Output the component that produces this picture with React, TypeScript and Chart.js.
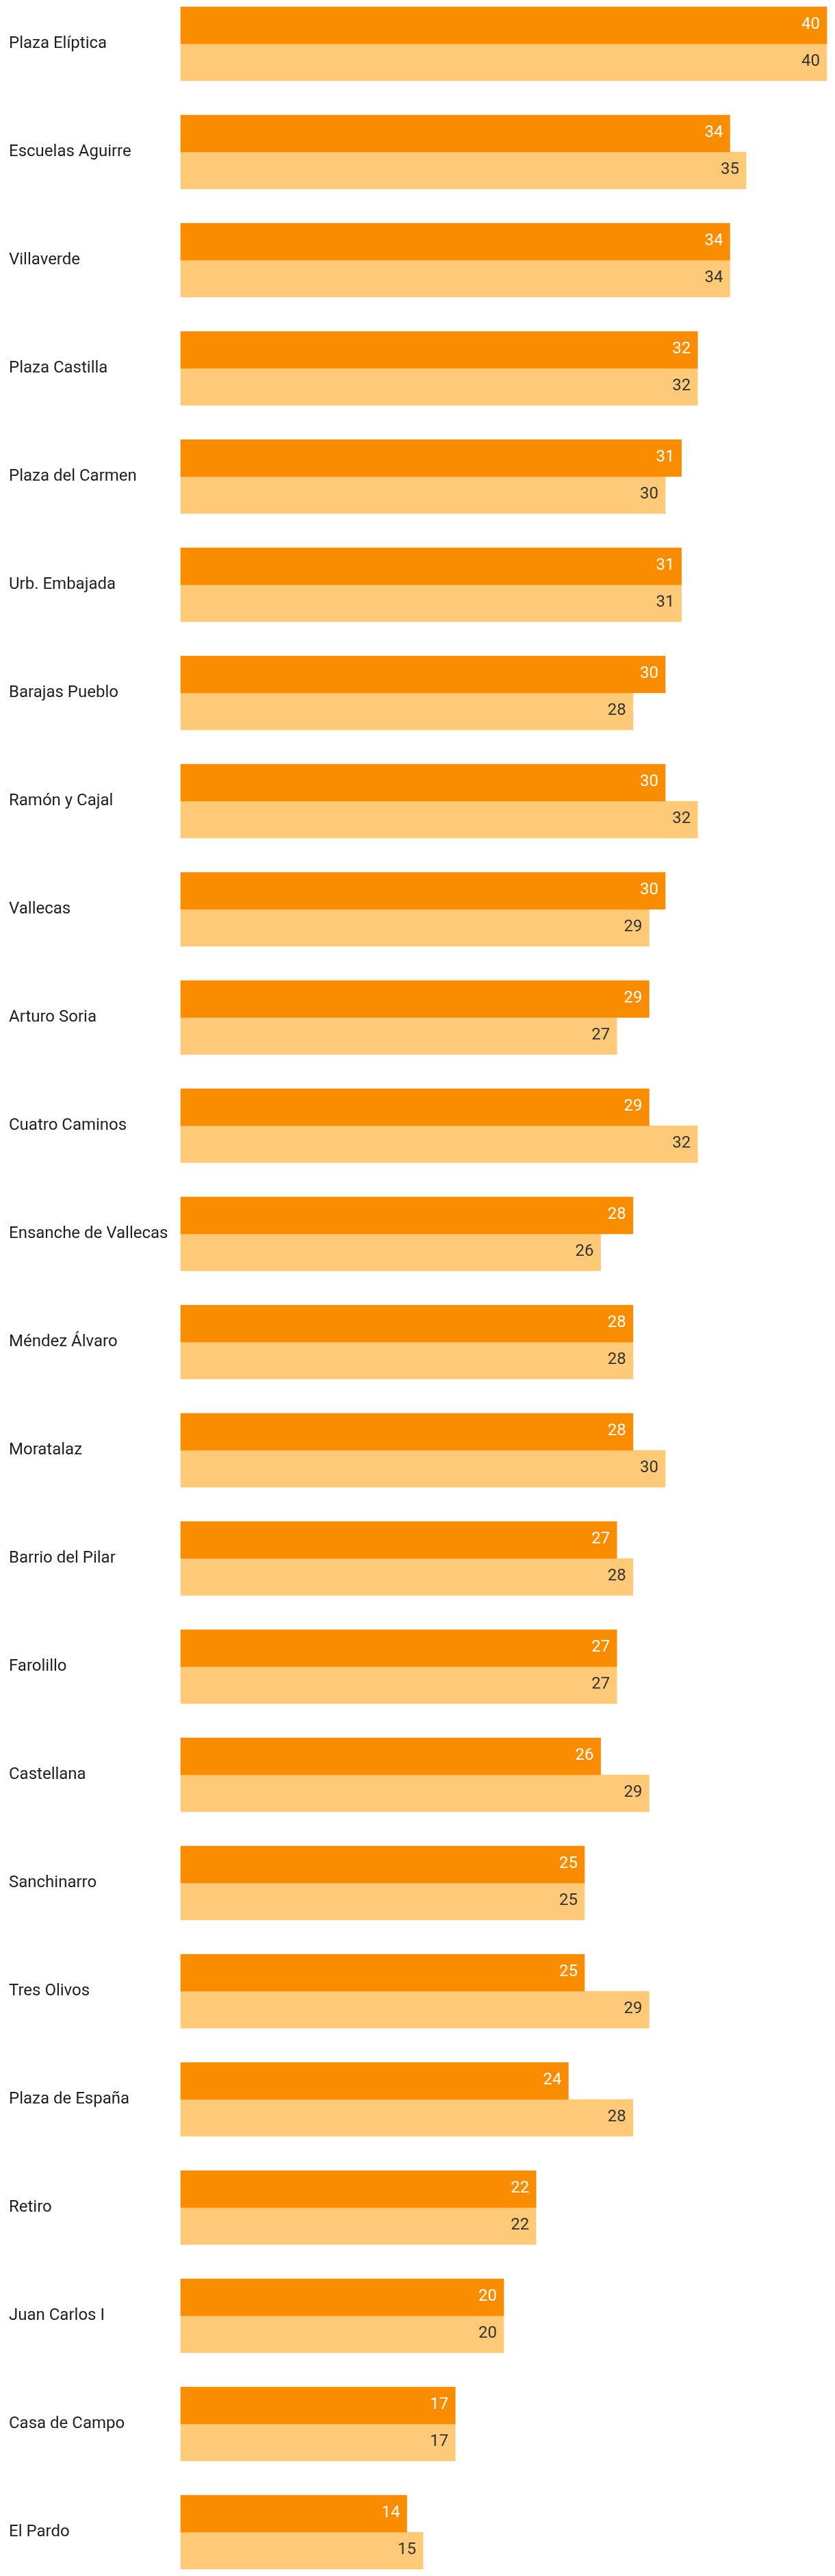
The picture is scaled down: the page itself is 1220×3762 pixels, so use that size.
import React, { useEffect, useRef } from "react";
import { Chart, registerables } from "chart.js";

Chart.register(...registerables);

const categories: string[] = [
  "Plaza Elíptica",
  "Escuelas Aguirre",
  "Villaverde",
  "Plaza Castilla",
  "Plaza del Carmen",
  "Urb. Embajada",
  "Barajas Pueblo",
  "Ramón y Cajal",
  "Vallecas",
  "Arturo Soria",
  "Cuatro Caminos",
  "Ensanche de Vallecas",
  "Méndez Álvaro",
  "Moratalaz",
  "Barrio del Pilar",
  "Farolillo",
  "Castellana",
  "Sanchinarro",
  "Tres Olivos",
  "Plaza de España",
  "Retiro",
  "Juan Carlos I",
  "Casa de Campo",
  "El Pardo",
];

const seriesA: number[] = [40, 34, 34, 32, 31, 31, 30, 30, 30, 29, 29, 28, 28, 28, 27, 27, 26, 25, 25, 24, 22, 20, 17, 14];
const seriesB: number[] = [40, 35, 34, 32, 30, 31, 28, 32, 29, 27, 32, 26, 28, 30, 28, 27, 29, 25, 29, 28, 22, 20, 17, 15];

const seriesNames: string[] = ["Serie 1", "Serie 2"];
const xMin = 0;
const xMax = 40;

const DARK = "#FA8C00";
const LIGHT = "#FECA78";
const FONT = "Roboto";

const valueLabels = {
  id: "valueLabels",
  afterDatasetsDraw(chart: any) {
    const ctx = chart.ctx;
    ctx.save();
    ctx.font = `24px ${FONT}`;
    ctx.textAlign = "right";
    ctx.textBaseline = "middle";
    chart.data.datasets.forEach((ds: any, di: number) => {
      const meta = chart.getDatasetMeta(di);
      meta.data.forEach((bar: any, i: number) => {
        const v = ds.data[i];
        ctx.fillStyle = di === 0 ? "#ffffff" : "#333333";
        ctx.fillText(String(v), bar.x - 10, bar.y - 1.5);
      });
    });
    ctx.restore();
  },
};

export default function App() {
  const ref = useRef<HTMLCanvasElement | null>(null);

  useEffect(() => {
    if (!ref.current) return;
    const chart = new Chart(ref.current, {
      type: "bar",
      data: {
        labels: categories,
        datasets: [
          { label: seriesNames[0], data: seriesA, backgroundColor: DARK, barThickness: 54, clip: false } as any,
          { label: seriesNames[1], data: seriesB, backgroundColor: LIGHT, barThickness: 54, clip: false } as any,
        ],
      },
      options: {
        indexAxis: "y",
        responsive: false,
        animation: false,
        layout: { padding: { top: 56, bottom: 56, left: 5, right: 4 } },
        plugins: { legend: { display: false }, tooltip: { enabled: false } },
        scales: {
          x: { display: false, min: xMin, max: xMax },
          y: {
            offset: false,
            grid: { display: false },
            border: { display: false },
            ticks: {
              crossAlign: "far",
              color: "#212121",
              font: { family: FONT, size: 24 },
              padding: 0,
            },
            afterFit(scale: any) {
              scale.width = 251;
            },
          },
        },
      },
      plugins: [valueLabels],
    });
    return () => chart.destroy();
  }, []);

  return (
    <div style={{ width: 1204, height: 3746 }}>
      <canvas ref={ref} width={1204} height={3746} style={{ display: "block" }} />
    </div>
  );
}
